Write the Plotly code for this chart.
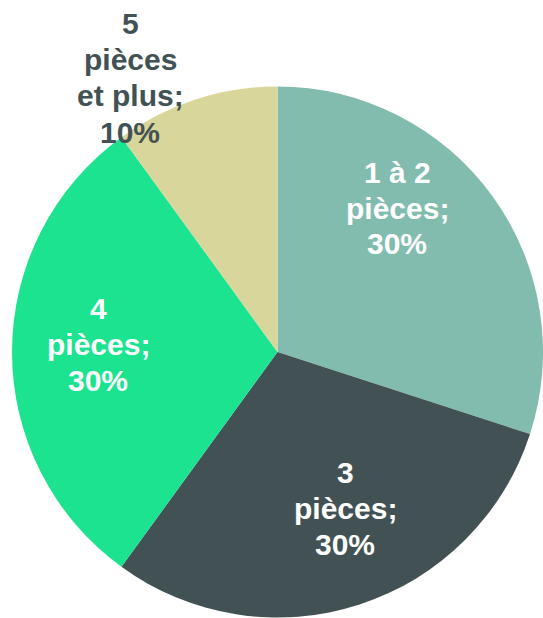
import plotly.graph_objects as go

# Data
categories = ["1 à 2 pièces", "3 pièces", "4 pièces", "5 pièces et plus"]
values = [30, 30, 30, 10]
label_lines = [["1 à 2", "pièces"], ["3", "pièces"], ["4", "pièces"], ["5", "pièces", "et plus"]]
colors = ["#82BCAE", "#425254", "#1BE38F", "#D9D69B"]
text_colors = ["#FFFFFF", "#FFFFFF", "#FFFFFF", "#425254"]
# label placement: center x, first-line center y (pixels in the 543x618 canvas)
label_px = [(397, 172), (345, 472), (98, 308), (130, 24)]
LINE_STEP = 36

W, H = 543, 618

fig = go.Figure()
fig.add_trace(go.Pie(
    labels=categories,
    values=values,
    sort=False,
    direction="clockwise",
    rotation=0,
    marker=dict(colors=colors, line=dict(width=0)),
    textinfo="none",
    hoverinfo="label+percent",
    showlegend=False,
    domain=dict(x=[12 / W, 1], y=[0, 532 / H]),
))

for lines, v, tc, (px, py) in zip(label_lines, values, text_colors, label_px):
    all_lines = lines[:-1] + [lines[-1] + ";", f"{v}%"]
    for i, txt in enumerate(all_lines):
        fig.add_annotation(
            x=px / W, y=1 - (py + i * LINE_STEP) / H, xref="paper", yref="paper",
            text=f"<b>{txt}</b>",
            showarrow=False, xanchor="center", yanchor="middle", align="center",
            font=dict(family="Liberation Sans, Arial, sans-serif", size=30, color=tc),
        )

fig.update_layout(
    width=W, height=H,
    margin=dict(l=0, r=0, t=0, b=0),
    paper_bgcolor="white", plot_bgcolor="white",
)

fig.write_html("out.html", config={"displayModeBar": False},
               post_script="document.body.style.margin='0';")
